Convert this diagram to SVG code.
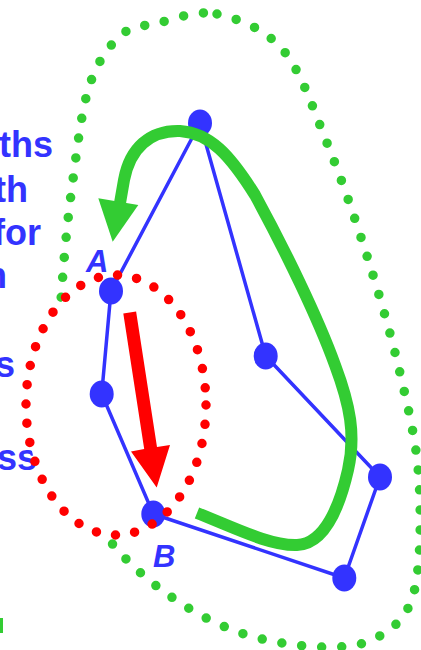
<svg xmlns="http://www.w3.org/2000/svg" width="421" height="650" viewBox="0 0 421 650">
<style>
.txt{font-family:"Liberation Sans",Arial,sans-serif;font-weight:bold;font-size:36px;fill:#3333FF}
.lbl{font-family:"Liberation Sans",Arial,sans-serif;font-weight:bold;font-style:italic;font-size:31px;fill:#3333FF}
.edge{stroke:#3333FF;stroke-width:3.5;fill:none;stroke-linecap:round}
.node{fill:#3333FF}
.gdots{fill:none;stroke:#33CC33;stroke-width:9.5;stroke-linecap:round;stroke-dasharray:0 20}
.rdots{fill:none;stroke:#FF0000;stroke-width:9.5;stroke-linecap:round;stroke-dasharray:0 19.4}
</style>
<rect width="421" height="650" fill="#FFFFFF"/>
<g id="side-text">
<text class="txt" x="53" y="157" text-anchor="end">ths</text>
<text class="txt" x="28" y="202" text-anchor="end">th</text>
<text class="txt" x="41" y="245" text-anchor="end">for</text>
<text class="txt" x="7" y="288" text-anchor="end">n</text>
<text class="txt" x="15" y="377" text-anchor="end">s</text>
<text class="txt" x="37" y="470" text-anchor="end">ss</text>
<rect x="0" y="618" width="3" height="15" fill="#33CC33"/>
</g>
<g id="outer-region">
<path class="gdots" d="M 217,14 C 237.8,18.5 264.7,28.5 283,50 C 301.3,71.5 313,108.7 327,143 C 341,177.3 354.8,217.7 367,256 C 379.2,294.3 391.3,335.7 400,373 C 408.7,410.3 416.7,443.5 419,480 C 421.3,516.5 420.8,565.8 414,592 C 407.2,618.2 393.7,627.8 378,637 C 362.3,646.2 342.8,647.7 320,647 C 297.2,646.3 266,641.5 241,633 C 216,624.5 191.8,611.3 170,596 C 148.2,580.7 126.7,562 110,541 C 93.3,520 78.7,496.8 70,470 C 61.3,443.2 59.3,410.7 58,380 C 56.7,349.3 59.7,318.2 62,286 C 64.3,253.8 67.5,220.2 72,187 C 76.5,153.8 81,112.2 89,87 C 97,61.8 108.5,46.7 120,36 C 131.5,25.3 141.8,26.7 158,23 C 174.2,19.3 196.2,9.5 217,14 Z"/>
</g>
<g id="inner-region-fill">
<ellipse cx="116" cy="405" rx="90" ry="130" fill="#FFFFFF"/>
</g>
<g id="connectors">
<line class="edge" x1="200" y1="123" x2="111" y2="291"/>
<line class="edge" x1="200" y1="123" x2="265.7" y2="356"/>
<line class="edge" x1="111" y1="291" x2="101.7" y2="394"/>
<line class="edge" x1="101.7" y1="394" x2="153.3" y2="514"/>
<line class="edge" x1="153.3" y1="514" x2="344.3" y2="578"/>
<line class="edge" x1="344.3" y1="578" x2="380" y2="477"/>
<line class="edge" x1="380" y1="477" x2="265.7" y2="356"/>
</g>
<g id="node-top"><ellipse class="node" cx="200" cy="123" rx="12" ry="13.5"/></g>
<g id="node-A"><ellipse class="node" cx="111" cy="291" rx="12" ry="13.5"/></g>
<g id="node-left"><ellipse class="node" cx="101.7" cy="394" rx="12" ry="13.5"/></g>
<g id="node-B"><ellipse class="node" cx="153.3" cy="514" rx="12" ry="13.5"/></g>
<g id="node-mid"><ellipse class="node" cx="265.7" cy="356" rx="12" ry="13.5"/></g>
<g id="node-right"><ellipse class="node" cx="380" cy="477" rx="12" ry="13.5"/></g>
<g id="node-bottom"><ellipse class="node" cx="344.3" cy="578" rx="12" ry="13.5"/></g>
<g id="inner-region">
<ellipse class="rdots" cx="116" cy="405" rx="90" ry="130"/>
</g>
<g id="green-arrow">
<path d="M 197,513 C 235,528 270,546 297,545 C 325,544 340,505 348,470 C 356,435 350,405 335,365 C 318,318 285,250 255,195 C 230,155 210,133 180,131 C 150,130 130,148 124,180 L 120,203" fill="none" stroke="#33CC33" stroke-width="12"/>
<polygon points="98.3,198.3 138.3,205 112.7,241.7" fill="#33CC33"/>
</g>
<g id="red-arrow">
<polygon points="123.3,313.5 136.1,311.5 157,447 170,445 156.7,487.6 131,451.5 144.2,449" fill="#FF0000"/>
</g>
<g id="labels">
<text class="lbl" x="86" y="272">A</text>
<text class="lbl" x="153" y="567">B</text>
</g>
</svg>
